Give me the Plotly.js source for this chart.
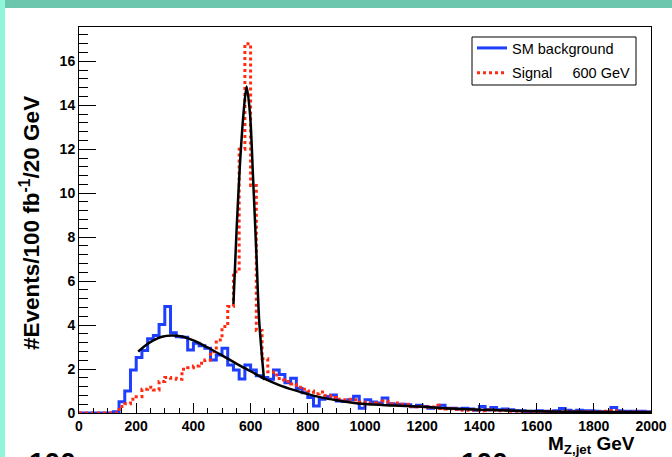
<!DOCTYPE html>
<html><head><meta charset="utf-8">
<script src="https://cdn.plot.ly/plotly-3.0.1.min.js"></script>
<style>
html,body{margin:0;padding:0;background:#fff;}
#wrap{position:relative;width:672px;height:457px;overflow:hidden;}
#chart{position:absolute;left:0;top:0;width:672px;height:457px;}
.band-top{position:absolute;left:0;top:0;width:672px;height:8px;background:#6cc6ae;}
.band-left{position:absolute;left:0;top:0;width:5px;height:457px;background:#8ff5db;}
</style></head>
<body><div id="wrap"><div id="chart"></div><div class="band-top"></div><div class="band-left"></div></div>
<script>
// 20 GeV bins from 0 to 2000 GeV (lower bin edges)
const binWidth = 20;
const binLowEdges = Array.from({length: 100}, (_, i) => i * binWidth);
const xMax = 2000;

// SM background histogram (events / 100 fb^-1 / 20 GeV)
const smBackground = [
  0, 0, 0, 0, 0, 0, 0.06, 0.51, 1.0, 1.96,
  2.53, 2.84, 3.38, 3.52, 4.03, 4.84, 3.65, 3.47, 3.45, 2.87,
  3.17, 3.06, 2.94, 2.41, 2.64, 2.94, 2.18, 1.96, 1.55, 2.18,
  1.96, 1.70, 1.62, 1.53, 1.96, 1.75, 1.38, 1.58, 1.12, 0.92,
  0.70, 0.32, 0.62, 0.75, 0.82, 0.55, 0.52, 0.60, 0.76, 0.22,
  0.60, 0.50, 0.45, 0.68, 0.42, 0.40, 0.40, 0.38, 0.28, 0.35,
  0.30, 0.22, 0.25, 0.35, 0.22, 0.22, 0.18, 0.22, 0.18, 0.12,
  0.30, 0.15, 0.25, 0.15, 0.18, 0.15, 0.10, 0.10, 0.06, 0.08,
  0.10, 0.08, 0.06, 0.10, 0.20, 0.12, 0.08, 0.12, 0.10, 0.10,
  0.08, 0.06, 0.06, 0.25, 0.10, 0.08, 0.08, 0.08, 0.08, 0.06
];

// Signal (600 GeV) histogram
const signal600 = [
  0, 0, 0, 0, 0, 0, 0, 0.30, 0.42, 0.62,
  0.74, 1.08, 1.17, 1.05, 1.43, 1.62, 1.58, 1.53, 1.99, 2.06,
  2.14, 2.26, 2.41, 2.79, 3.32, 3.93, 4.84, 6.43, 12.0, 16.8,
  10.35, 3.75, 2.47, 1.88, 1.73, 1.50, 1.43, 1.32, 1.17, 1.08,
  1.00, 0.88, 0.95, 0.80, 0.70, 0.62, 0.60, 0.62, 0.60, 0.50,
  0.42, 0.45, 0.40, 0.55, 0.42, 0.45, 0.40, 0.40, 0.30, 0.28,
  0.30, 0.25, 0.35, 0.20, 0.18, 0.20, 0.16, 0.12, 0.15, 0.12,
  0.10, 0.15, 0.12, 0.10, 0.12, 0.08, 0.08, 0.06, 0.08, 0.05,
  0.06, 0.05, 0.08, 0.06, 0.05, 0.08, 0.05, 0.06, 0.04, 0.06,
  0.05, 0.04, 0.08, 0.10, 0.05, 0.04, 0.05, 0.03, 0.04, 0.03
];

// Fitted background curve
const bgFitMass = [207, 230, 260, 290, 324, 360, 400, 450, 500, 550, 600, 650, 700, 750, 800, 850, 900, 950, 1000, 1100, 1200, 1300, 1400, 1500, 1600, 1700, 1800, 1900, 2000];
const bgFitValue = [2.79, 3.05, 3.30, 3.47, 3.53, 3.48, 3.30, 2.98, 2.62, 2.25, 1.90, 1.55, 1.27, 1.05, 0.86, 0.70, 0.58, 0.48, 0.41, 0.34, 0.28, 0.20, 0.15, 0.11, 0.08, 0.06, 0.05, 0.04, 0.03];

// Fitted signal peak curve
const sigFitMass = [540, 551, 563, 575, 586, 598, 609, 621, 630, 647];
const sigFitValue = [4.96, 8.33, 11.36, 13.6, 14.85, 13.6, 10.6, 7.0, 4.2, 1.5];

// Texts
const yTitle = '#Events/100 fb<sup>-1</sup>/20 GeV';
const xTitle = 'M<sub>Z,jet</sub> GeV';
const bgName = 'SM background';
const sigName = 'Signal&nbsp;&nbsp;&nbsp;&nbsp; 600 GeV';

function stepX(edges) { return edges.concat([xMax]); }
function stepY(vals) { return vals.concat([vals[vals.length - 1]]); }

const FAM = 'Liberation Sans, Arial, sans-serif';
const boldFont = {family: FAM, size: 14, color: '#000', weight: 'bold'};

const traces = [
  {x: stepX(binLowEdges), y: stepY(smBackground), type: 'scatter', mode: 'lines', name: bgName,
   legendgroup: 'bg', line: {shape: 'hv', color: '#1e3fff', width: 3}},
  {x: stepX(binLowEdges), y: stepY(signal600), type: 'scatter', mode: 'lines', name: sigName,
   legendgroup: 'sig', line: {shape: 'hv', color: '#ff2a10', width: 3, dash: 'dot'}},
  {x: bgFitMass, y: bgFitValue, type: 'scatter', mode: 'lines', showlegend: false,
   line: {shape: 'spline', smoothing: 1, color: '#000', width: 2.5}},
  {x: sigFitMass, y: sigFitValue, type: 'scatter', mode: 'lines', showlegend: false,
   line: {shape: 'spline', smoothing: 0.8, color: '#000', width: 2.5}}
];

const L = 79, R = 651, T = 27, B = 413;
const W = R - L, H = B - T;
function px(p) { return (p - L) / W; }
function py(p) { return (B - p) / H; }

const layout = {
  width: 672, height: 457,
  margin: {l: L, r: 672 - R, t: T, b: 457 - B, pad: 0},
  paper_bgcolor: '#fff', plot_bgcolor: '#fff',
  showlegend: true,
  legend: {x: px(472), xanchor: 'left', y: py(32), yanchor: 'top',
    bgcolor: 'rgba(0,0,0,0)', borderwidth: 0, traceorder: 'grouped', tracegroupgap: 3,
    font: {family: FAM, size: 14.5, color: '#000'}},
  shapes: [
    {type: 'rect', xref: 'paper', yref: 'paper', x0: px(472), x1: px(636), y0: py(85), y1: py(37),
     line: {color: '#000', width: 1}, fillcolor: 'rgba(0,0,0,0)', layer: 'above'}
  ],
  xaxis: {range: [0, 2000], tick0: 0, dtick: 200, ticks: 'inside', ticklen: 10, tickwidth: 1, tickcolor: '#000',
    minor: {dtick: 50, ticks: 'inside', ticklen: 5, tickcolor: '#000', tickwidth: 1},
    showline: true, linecolor: '#000', linewidth: 1, mirror: true, showgrid: false, zeroline: false,
    tickfont: boldFont, fixedrange: true},
  yaxis: {range: [0, 17.56], tick0: 0, dtick: 2, ticks: 'inside', ticklen: 17, tickwidth: 1, tickcolor: '#000',
    minor: {dtick: 0.4, ticks: 'inside', ticklen: 9, tickcolor: '#000', tickwidth: 1},
    showline: true, linecolor: '#000', linewidth: 1, mirror: true, showgrid: false, zeroline: false,
    tickfont: boldFont, fixedrange: true},
  annotations: [
    {text: yTitle, xref: 'paper', yref: 'paper', x: px(30), y: py(223), xanchor: 'center', yanchor: 'middle',
     textangle: -90, showarrow: false, font: {family: FAM, size: 22.5, color: '#000', weight: 'bold'}},
    {text: xTitle, xref: 'paper', yref: 'paper', x: px(637), y: py(445), xanchor: 'right', yanchor: 'middle',
     showarrow: false, font: {family: FAM, size: 19, color: '#000', weight: 'bold'}},
    {text: '100', xref: 'paper', yref: 'paper', x: px(52), y: py(462), xanchor: 'center', yanchor: 'middle',
     showarrow: false, font: {family: FAM, size: 28, color: '#000', weight: 'bold'}},
    {text: '100', xref: 'paper', yref: 'paper', x: px(484), y: py(462), xanchor: 'center', yanchor: 'middle',
     showarrow: false, font: {family: FAM, size: 28, color: '#000', weight: 'bold'}}
  ]
};

Plotly.newPlot('chart', traces, layout, {displayModeBar: false, staticPlot: true});
</script></body></html>
